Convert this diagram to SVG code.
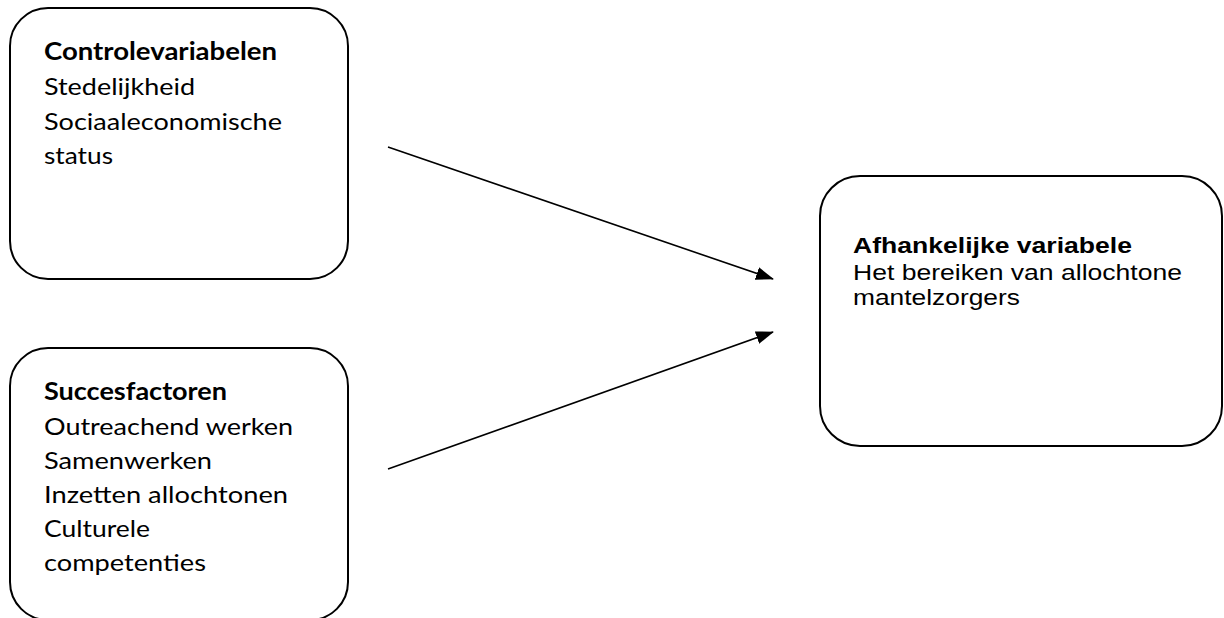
<svg xmlns="http://www.w3.org/2000/svg" width="1224" height="618" viewBox="0 0 1224 618">
<style>
.box{fill:#fff;stroke:#000;stroke-width:2}
.c{font-family:Lato,"Open Sans","Noto Sans",sans-serif;font-size:24px;fill:#000}
.a{font-family:"Liberation Sans",Arial,sans-serif;font-size:21.5px;fill:#000}
.b{font-weight:bold}
.conn{stroke:#000;stroke-width:1.6;fill:none}
</style>
<defs>
<marker id="ah" markerWidth="18" markerHeight="13" refX="17" refY="6.5" orient="auto" markerUnits="userSpaceOnUse">
<path d="M0,0 L18,6.5 L0,13 Z" fill="#000"/>
</marker>
</defs>
<rect width="1224" height="618" fill="#fff"/>
<g id="controle">
<rect class="box" x="10" y="8" width="338" height="271" rx="38" ry="38"/>
<text class="c b" x="44" y="60" textLength="233" lengthAdjust="spacingAndGlyphs">Controlevariabelen</text>
<text class="c" x="44" y="95" textLength="151" lengthAdjust="spacingAndGlyphs">Stedelijkheid</text>
<text class="c" x="44" y="130" textLength="238" lengthAdjust="spacingAndGlyphs">Sociaaleconomische</text>
<text class="c" x="44" y="164" textLength="69" lengthAdjust="spacingAndGlyphs">status</text>
</g>
<g id="succes">
<rect class="box" x="10" y="348" width="338" height="272" rx="38" ry="38"/>
<text class="c b" x="44" y="400" textLength="183" lengthAdjust="spacingAndGlyphs">Succesfactoren</text>
<text class="c" x="44" y="435" textLength="249" lengthAdjust="spacingAndGlyphs">Outreachend werken</text>
<text class="c" x="44" y="469" textLength="168" lengthAdjust="spacingAndGlyphs">Samenwerken</text>
<text class="c" x="44" y="503" textLength="244" lengthAdjust="spacingAndGlyphs">Inzetten allochtonen</text>
<text class="c" x="44" y="537" textLength="106" lengthAdjust="spacingAndGlyphs">Culturele</text>
<text class="c" x="44" y="571" textLength="162" lengthAdjust="spacingAndGlyphs">competenties</text>
</g>
<g id="afhankelijk">
<rect class="box" x="820" y="176" width="402" height="270" rx="40" ry="40"/>
<text class="a b" x="853" y="253" textLength="279" lengthAdjust="spacingAndGlyphs">Afhankelijke variabele</text>
<text class="a" x="853" y="280" textLength="329" lengthAdjust="spacingAndGlyphs">Het bereiken van allochtone</text>
<text class="a" x="853" y="305" textLength="167" lengthAdjust="spacingAndGlyphs">mantelzorgers</text>
</g>
<g id="connectors">
<line class="conn" x1="388" y1="147" x2="773" y2="279" marker-end="url(#ah)"/>
<line class="conn" x1="388" y1="469" x2="773" y2="332" marker-end="url(#ah)"/>
</g>
</svg>
